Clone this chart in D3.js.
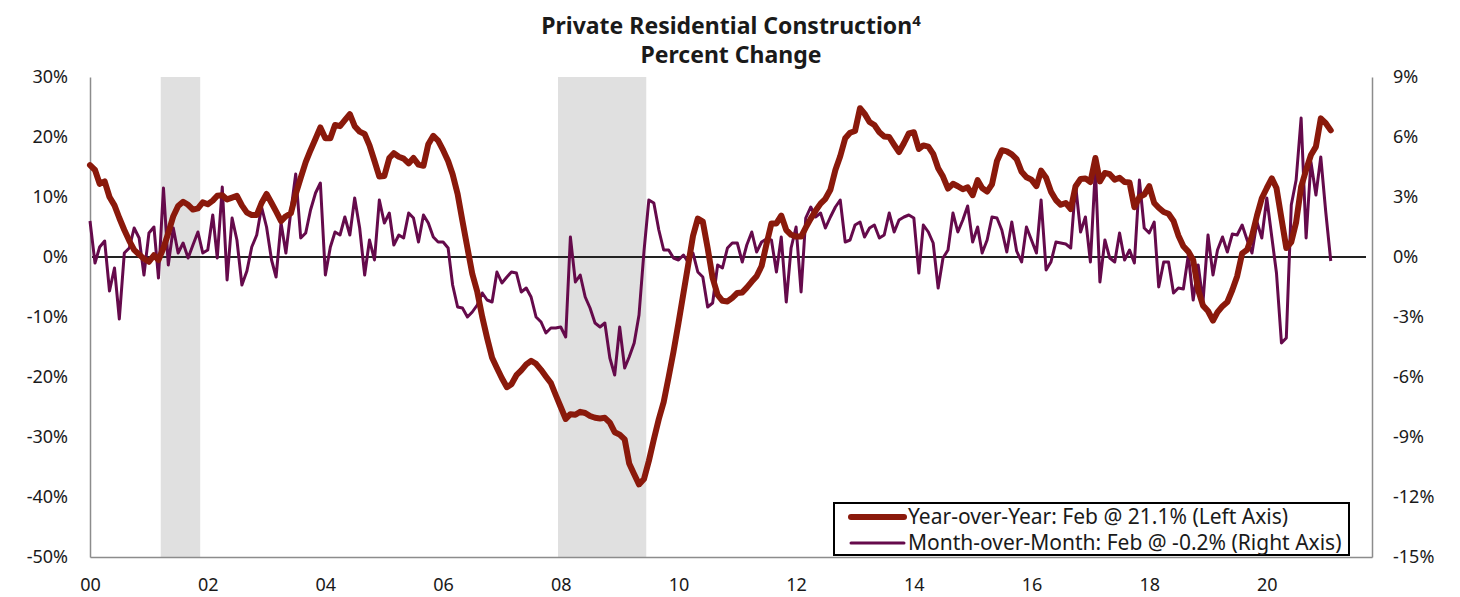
<!DOCTYPE html>
<html lang="en">
    <head>
        <meta charset="utf-8">
        <title>Private Residential Construction</title>
        <script src="https://d3js.org/d3.v7.min.js"></script>
        <style type="text/css">
            body { margin: 0; background: #fff; }
            text { font-family: "Noto Sans", sans-serif; fill: #1a1a1a; }
            .title { font-weight: bold; font-size: 23px; }
            .axis text { font-size: 18px; }
            .axis path { stroke: #8c8c8c; stroke-width: 1.5; }
            .legend text { font-size: 21px; }
        </style>
    </head>
    <body>
        <script type="text/javascript">

            //consts
            const w = 1460;
            const h = 597;
            const margin = {top: 77, right: 88, bottom: 40, left: 90};

            //data (monthly, Jan 2000 - Feb 2021)
            const startMonth = "2000-01";

            const yoy = [
                15.3, 14.5, 12.2, 12.6, 10.0, 8.6, 6.5, 4.5, 2.7, 1.2,
                0.4, -0.3, -0.8, 0.3, -0.5, 1.5, 4.0, 6.8, 8.5, 9.2,
                8.7, 7.9, 8.1, 9.1, 8.8, 9.4, 10.2, 10.3, 9.6, 9.9,
                10.2, 8.6, 7.4, 7.0, 7.0, 9.0, 10.5, 9.0, 7.6, 6.0,
                6.8, 7.3, 10.5, 13.2, 15.8, 17.8, 19.7, 21.6, 19.8, 19.8,
                22.0, 21.8, 22.8, 23.8, 21.8, 20.9, 20.5, 18.6, 16.0, 13.4,
                13.5, 16.5, 17.3, 16.7, 16.4, 15.6, 16.5, 15.4, 15.2, 18.8,
                20.2, 19.4, 17.8, 16.0, 13.8, 10.5, 6.0, 1.5, -2.8, -5.8,
                -10.0, -13.5, -16.8, -18.5, -20.2, -21.7, -21.2, -19.7, -18.9, -17.9,
                -17.3, -17.8, -18.8, -19.9, -21.0, -23.0, -25.0, -27.0, -26.2, -26.3,
                -25.8, -26.0, -26.5, -26.8, -26.9, -26.8, -27.6, -29.2, -29.6, -30.4,
                -34.4, -36.2, -37.9, -37.0, -34.0, -30.4, -27.0, -24.2, -20.0, -15.8,
                -11.0, -6.0, -1.5, 3.5, 6.4, 5.9, 1.5, -3.5, -6.3, -7.3,
                -7.4, -6.8, -6.0, -5.9, -5.1, -4.1, -3.2, -1.5, 2.1, 5.6,
                5.6, 6.9, 4.5, 3.7, 3.4, 3.4, 4.9, 6.4, 7.7, 8.9,
                9.7, 11.2, 14.5, 16.8, 19.8, 20.7, 21.0, 24.8, 23.9, 22.5,
                22.0, 20.8, 20.1, 20.0, 18.7, 17.5, 19.0, 20.6, 20.8, 18.0,
                18.6, 18.4, 17.2, 14.8, 13.4, 11.4, 12.2, 11.8, 11.3, 11.6,
                10.3, 12.8, 11.5, 10.9, 12.1, 16.0, 17.8, 17.6, 17.1, 16.3,
                14.2, 13.3, 12.9, 11.8, 14.4, 13.2, 10.9, 9.5, 8.7, 9.0,
                8.0, 11.8, 13.0, 13.1, 12.5, 16.5, 12.6, 14.0, 13.8, 12.9,
                13.2, 12.5, 12.4, 8.3, 10.0, 10.4, 11.8, 9.0, 8.2, 7.5,
                7.2, 6.0, 3.6, 1.8, 0.9, -0.5, -5.5, -8.1, -9.0, -10.6,
                -9.2, -8.2, -7.5, -5.5, -3.2, 0.6, 1.2, 3.5, 6.9, 9.8,
                11.5, 13.1, 11.5, 6.4, 1.5, 2.5, 5.8, 11.7, 14.5, 17.0,
                18.4, 23.1, 22.3, 21.1
            ];

            const mom = [
                1.8, -0.3, 0.5, 0.8, -1.7, -0.55, -3.1, 0.2, 0.45, 1.45,
                0.95, -0.9, 1.2, 1.5, -1.05, 3.45, -0.4, 1.45, 0.2, 0.7,
                -0.05, 0.6, 1.25, 0.2, 0.35, 2.1, -0.05, 3.5, -1.15, 1.95,
                0.85, -1.4, -0.7, 0.5, 1.1, 2.5, 1.5, -0.15, -1.0, 1.7,
                0.2, 2.3, 4.15, 0.95, 1.2, 2.35, 3.2, 3.7, -0.9, 0.5,
                1.25, 1.1, 2.0, 1.1, 2.95, 1.45, -0.9, 0.85, -0.15, 2.85,
                1.7, 2.2, 0.6, 1.1, 0.95, 2.2, 1.95, 0.75, 2.1, 1.7,
                1.0, 0.75, 0.75, 0.45, -1.4, -2.5, -2.55, -3.0, -2.75, -2.4,
                -1.8, -2.15, -2.25, -0.75, -1.3, -1.0, -0.75, -0.8, -1.75, -1.55,
                -2.0, -3.0, -3.25, -3.8, -3.55, -3.55, -3.5, -4.0, 1.0, -1.25,
                -0.9, -2.0, -2.55, -3.3, -3.5, -3.3, -5.05, -5.9, -3.5, -5.55,
                -5.0, -4.3, -2.9, 0.3, 2.85, 2.7, 1.35, 0.35, 0.35, -0.05,
                -0.15, 0.1, -0.25, 0.2, -0.75, -1.0, -2.5, -2.3, -0.4, -0.55,
                0.45, 0.7, 0.7, -0.25, 0.6, 1.25, 0.25, 0.75, 0.9, 0.85,
                -0.75, 1.0, -2.25, 0.45, 1.5, -1.75, 1.95, 2.5, 2.0, 2.2,
                1.45, 2.0, 2.5, 2.85, 0.75, 0.85, 1.6, 1.75, 1.0, 1.45,
                1.6, 0.95, 1.1, 2.2, 1.25, 1.85, 2.0, 2.1, 1.95, -0.8,
                1.6, 1.25, 0.7, -1.55, -0.05, 0.35, 2.2, 1.25, 1.85, 2.55,
                0.75, 1.5, 0.2, 0.85, 2.0, 1.95, 1.35, 0.25, 1.75, 0.3,
                -0.25, 1.5, 0.85, 0.2, 2.85, -0.65, -0.25, 0.75, 0.7, 0.65,
                0.45, 3.6, 1.25, 2.0, -0.25, 4.45, -1.25, 0.85, -0.05, -0.25,
                1.2, -0.15, 0.35, -0.3, 3.85, 1.45, 1.2, 1.75, -1.5, -0.25,
                -0.25, -1.8, -1.55, -1.6, 0.1, -2.15, -0.4, -2.25, 1.1, -0.9,
                0.35, 1.0, 0.25, 1.15, 1.1, 1.6, 0.85, 0.2, 1.75, 0.95,
                2.95, 1.0, -0.8, -4.3, -4.05, 2.6, 3.85, 6.95, 0.95, 4.75,
                3.1, 5.0, 2.25, -0.2
            ];

            const recessions = [["2001-03-15", "2001-11-15"], ["2007-12-15", "2009-06-15"]];
            const leftTicks = [30, 20, 10, 0, -10, -20, -30, -40, -50];
            const rightTicks = [9, 6, 3, 0, -3, -6, -9, -12, -15];
            const legendLabels = ["Year-over-Year: Feb @ 21.1% (Left Axis)", "Month-over-Month: Feb @ -0.2% (Right Axis)"];

            const colYoy = "#8a190b";
            const colMom = "#650a4b";

            //dates
            const parseMonth = d3.timeParse("%Y-%m");
            const parseDay = d3.timeParse("%Y-%m-%d");
            const first = parseMonth(startMonth);
            const dates = yoy.map((d, i) => d3.timeMonth.offset(first, i));

            //scales
            const xScale = d3.scaleTime()
                             .domain([first, new Date(2021, 9, 15)])
                             .range([margin.left, w - margin.right]);

            const yLeft = d3.scaleLinear()
                            .domain([-50, 30])
                            .range([h - margin.bottom, margin.top]);

            const yRight = d3.scaleLinear()
                             .domain([-15, 9])
                             .range([h - margin.bottom, margin.top]);

            //SVG
            const svg = d3.select("body")
                    .append("svg")
                    .attr("width", w)
                    .attr("height", h);

            //recession bands
            svg.selectAll("rect.rec")
               .data(recessions)
               .enter()
               .append("rect")
               .attr("class", "rec")
               .attr("x", d => xScale(parseDay(d[0])))
               .attr("width", d => xScale(parseDay(d[1])) - xScale(parseDay(d[0])))
               .attr("y", margin.top)
               .attr("height", h - margin.bottom - margin.top)
               .attr("fill", "#e0e0e0");

            //axes
            svg.append("g")
               .attr("class", "axis")
               .attr("transform", "translate(" + margin.left + ",0)")
               .call(d3.axisLeft(yLeft).tickValues(leftTicks).tickSize(0).tickPadding(22).tickFormat(d => d + "%"));

            svg.append("g")
               .attr("class", "axis")
               .attr("transform", "translate(" + (w - margin.right) + ",0)")
               .call(d3.axisRight(yRight).tickValues(rightTicks).tickSize(0).tickPadding(21).tickFormat(d => d + "%"));

            svg.append("g")
               .attr("class", "axis")
               .attr("transform", "translate(0," + (h - margin.bottom) + ")")
               .call(d3.axisBottom(xScale).ticks(d3.timeYear.every(2)).tickSize(0).tickPadding(21).tickFormat(d3.timeFormat("%y")));

            //zero line
            svg.append("line")
               .attr("x1", margin.left + 2)
               .attr("x2", w - margin.right - 6)
               .attr("y1", yLeft(0))
               .attr("y2", yLeft(0))
               .attr("stroke", "#222")
               .attr("stroke-width", 2);

            //lines
            const momLine = d3.line()
                              .x((d, i) => xScale(dates[i]))
                              .y(d => yRight(d));

            const yoyLine = d3.line()
                              .x((d, i) => xScale(dates[i]))
                              .y(d => yLeft(d));

            svg.append("path")
               .datum(mom)
               .attr("d", momLine)
               .attr("fill", "none")
               .attr("stroke", colMom)
               .attr("stroke-width", 3)
               .attr("stroke-linejoin", "round");

            svg.append("path")
               .datum(yoy)
               .attr("d", yoyLine)
               .attr("fill", "none")
               .attr("stroke", colYoy)
               .attr("stroke-width", 6)
               .attr("stroke-linejoin", "round")
               .attr("stroke-linecap", "round");

            //title
            const title = svg.append("text")
               .attr("class", "title")
               .attr("x", 731)
               .attr("y", 34)
               .attr("text-anchor", "middle");
            title.append("tspan").text("Private Residential Construction");
            title.append("tspan").attr("dy", -8).attr("font-size", 15).text("4");

            svg.append("text")
               .attr("class", "title")
               .attr("x", 731)
               .attr("y", 63)
               .attr("text-anchor", "middle")
               .text("Percent Change");

            //legend
            const legend = svg.append("g").attr("class", "legend");
            legend.append("rect")
                  .attr("x", 834)
                  .attr("y", 503)
                  .attr("width", 515)
                  .attr("height", 52)
                  .attr("fill", "#fff")
                  .attr("stroke", "#000")
                  .attr("stroke-width", 2);

            const items = legend.selectAll("g.item")
                  .data(legendLabels)
                  .enter()
                  .append("g")
                  .attr("class", "item")
                  .attr("transform", (d, i) => "translate(0," + (517 + i * 26) + ")");

            items.append("line")
                 .attr("x1", 851)
                 .attr("x2", 904)
                 .attr("stroke", (d, i) => i == 0 ? colYoy : colMom)
                 .attr("stroke-width", (d, i) => i == 0 ? 6 : 3)
                 .attr("stroke-linecap", "round");

            items.append("text")
                 .attr("x", 908)
                 .attr("dy", "0.35em")
                 .text(d => d);

        </script>
    </body>
</html>
